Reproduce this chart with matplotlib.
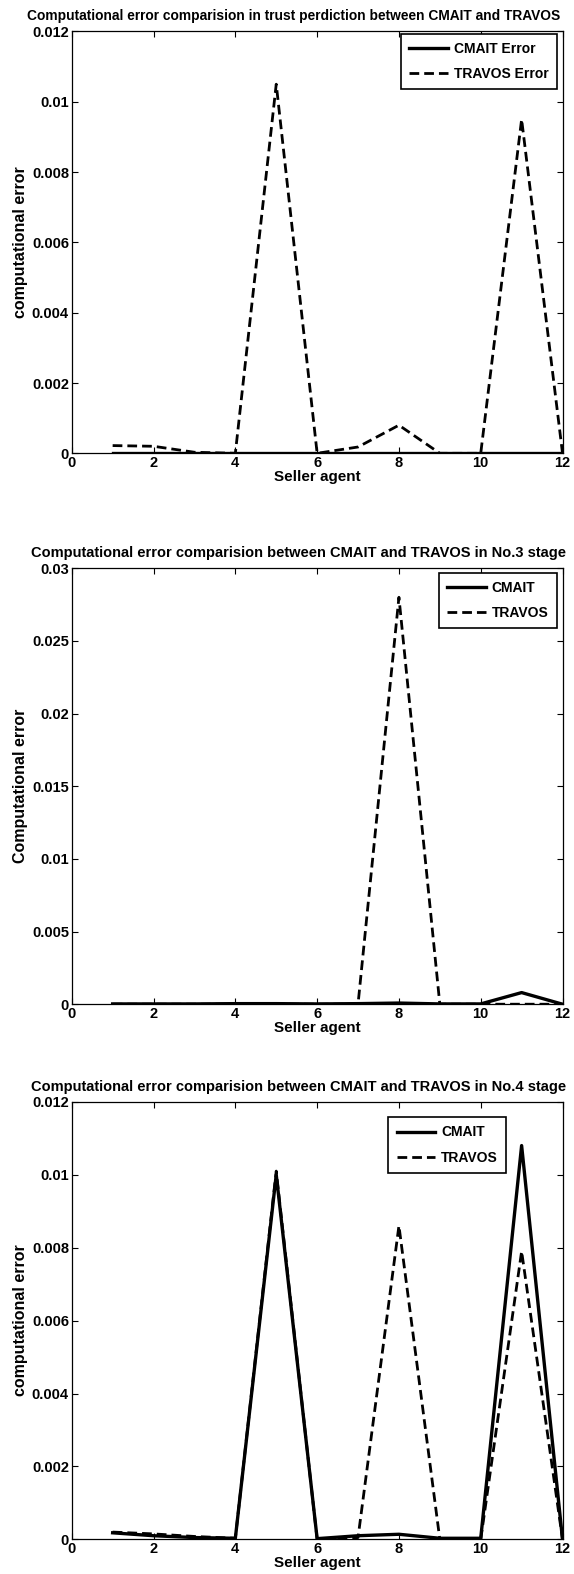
"""Three stacked MATLAB-style line charts: CMAIT vs TRAVOS computational error."""

import matplotlib
matplotlib.use("Agg")
import matplotlib.pyplot as plt

plt.rcParams["font.family"] = ["Liberation Sans", "DejaVu Sans"]

# ── Data ──────────────────────────────────────────────────────────────────────
sellers = [1, 2, 3, 4, 5, 6, 7, 8, 9, 10, 11, 12]

cmait_p1  = [0.00002, 0.00002, 0.00002, 0.00002, 0.00002, 0.00002,
             0.00002, 0.00002, 0.00002, 0.00002, 0.00002, 0.00002]
travos_p1 = [0.00022, 0.0002, 0.00003, 0.0, 0.0105, 0.0,
             0.00018, 0.0008, 0.0, 0.0, 0.0095, 0.0]

cmait_p2  = [0.00002, 0.00002, 0.00002, 0.00004, 0.00004, 0.00002,
             0.00004, 0.00008, 0.00002, 0.00002, 0.0008, 0.0]
travos_p2 = [0.0, 0.0, 0.0, 0.0, 0.0, 0.0,
             0.0, 0.028, 0.0, 0.0, 0.0, 0.0]

cmait_p3  = [0.00018, 0.0001, 0.00005, 0.00003, 0.0100, 0.00002,
             0.0001, 0.00014, 0.00003, 0.00003, 0.0108, 0.0]
travos_p3 = [0.0002, 0.00015, 0.00008, 0.00003, 0.0101, 0.0,
             0.00005, 0.0086, 0.0, 0.0, 0.0079, 0.0]

panels = [
    {
        "title": "Computational error comparision in trust perdiction between CMAIT and TRAVOS",
        "title_size": 9.9, "title_x": 0.453,
        "ylabel": "computational error",
        "labels": ("CMAIT Error", "TRAVOS Error"),
        "cmait": cmait_p1, "travos": travos_p1,
        "ymax": 0.012, "yticks": [0, 0.002, 0.004, 0.006, 0.008, 0.01, 0.012],
        "rect": [0.125, 0.712, 0.855, 0.268],
        "leg_anchor": (0.988, 0.995),
    },
    {
        "title": "Computational error comparision between CMAIT and TRAVOS in No.3 stage",
        "title_size": 10.5, "title_x": 0.462,
        "ylabel": "Computational error",
        "labels": ("CMAIT", "TRAVOS"),
        "cmait": cmait_p2, "travos": travos_p2,
        "ymax": 0.03, "yticks": [0, 0.005, 0.01, 0.015, 0.02, 0.025, 0.03],
        "rect": [0.125, 0.362, 0.855, 0.277],
        "leg_anchor": (0.988, 0.99),
    },
    {
        "title": "Computational error comparision between CMAIT and TRAVOS in No.4 stage",
        "title_size": 10.5, "title_x": 0.462,
        "ylabel": "computational error",
        "labels": ("CMAIT", "TRAVOS"),
        "cmait": cmait_p3, "travos": travos_p3,
        "ymax": 0.012, "yticks": [0, 0.002, 0.004, 0.006, 0.008, 0.01, 0.012],
        "rect": [0.125, 0.022, 0.855, 0.278],
        "leg_anchor": (0.885, 0.965),
    },
]


def _fmt(v):
    return "0" if v == 0 else f"{v:g}"


fig = plt.figure(figsize=(5.74, 15.74), dpi=100)

for p in panels:
    ax = fig.add_axes(p["rect"])
    ax.plot(sellers, p["cmait"], color="black", lw=2.4, ls="-", label=p["labels"][0])
    ax.plot(sellers, p["travos"], color="black", lw=2.0, ls=(0, (3.5, 1.8)), label=p["labels"][1])
    ax.set_xlim(0, 12)
    ax.set_ylim(0, p["ymax"])
    ax.set_xticks(range(0, 13, 2))
    ax.set_yticks(p["yticks"])
    ax.set_yticklabels([_fmt(v) for v in p["yticks"]])
    ax.tick_params(direction="in", top=True, right=True, length=4, width=0.8,
                   labelsize=10.5, pad=2)
    for lab in ax.get_xticklabels() + ax.get_yticklabels():
        lab.set_fontweight("bold")
    for s in ax.spines.values():
        s.set_linewidth(0.9)
    ax.set_title(p["title"], fontsize=p["title_size"], fontweight="bold",
                 x=p["title_x"], pad=8)
    ax.set_xlabel("Seller agent", fontsize=11, fontweight="bold", labelpad=0)
    ax.set_ylabel(p["ylabel"], fontsize=11.5, fontweight="bold", labelpad=3)
    leg = ax.legend(loc="upper right", bbox_to_anchor=p["leg_anchor"],
                    prop={"size": 10, "weight": "bold"}, frameon=True,
                    fancybox=False, edgecolor="black", handlelength=2.8,
                    borderaxespad=0.0, borderpad=0.6, labelspacing=0.8,
                    handletextpad=0.4, framealpha=1.0)
    leg.get_frame().set_linewidth(1.2)

fig.savefig("out.png", dpi=100)
